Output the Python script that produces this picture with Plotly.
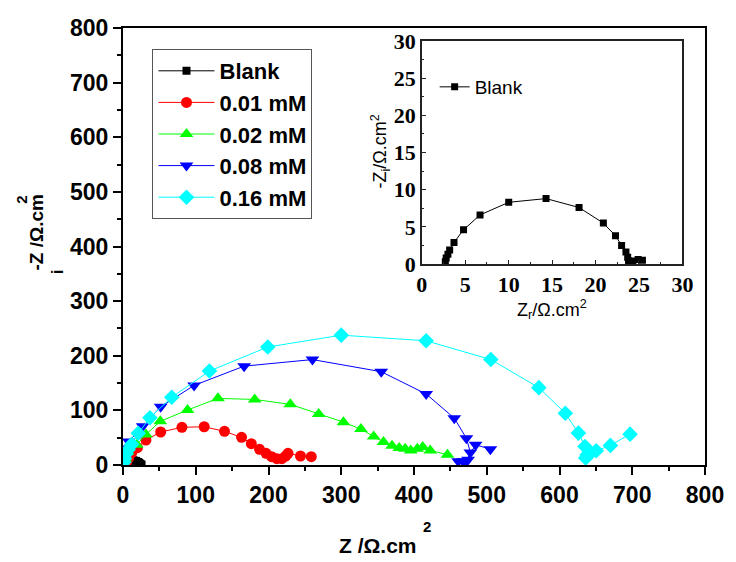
import plotly.graph_objects as go

# ---- data: Nyquist plots, Z_r and -Z_i in ohm.cm^2 ----
blank_zr = [2.7, 2.8, 3.0, 3.2, 3.7, 4.8, 6.7, 10.0, 14.3, 18.1, 20.9, 22.3, 23.0, 23.5, 23.7, 23.8, 24.3, 24.9, 25.4]
blank_zi = [0.3, 0.8, 1.3, 1.9, 2.9, 4.6, 6.6, 8.3, 8.8, 7.6, 5.5, 3.8, 2.5, 1.6, 0.9, 0.4, 0.4, 0.6, 0.5]

c001_zr = [5, 8, 12, 19.8, 31.5, 51.8, 81, 111.6, 139.5, 163, 176.4, 187.7, 196.7, 204.3, 211.5, 218.3, 223.7, 226.8, 244, 258.8]
c001_zi = [6, 13, 22, 31.7, 45.7, 60.4, 69, 70, 61.6, 50.6, 39, 28.7, 21.3, 15.2, 11.6, 11.6, 16.5, 21.3, 16.5, 15.2]

c002_zr = [3, 6.3, 18.9, 31.5, 51.3, 88.7, 130.5, 181, 230, 269, 303, 327, 344.6, 358, 369.8, 379.7, 387.8, 395.5, 404.5, 412, 422.3, 446]
c002_zi = [12, 25, 37, 56, 80, 100.6, 122, 120, 111, 93.5, 78.4, 65.7, 52.3, 42, 35.3, 31, 29.8, 26.7, 29.8, 32.8, 26.7, 18.8]

c008_zr = [2, 4, 8, 27, 51.8, 97.7, 166.5, 260.4, 355, 416.7, 455.4, 472, 477.5, 474.3, 467.6, 460.8, 470, 484.7, 505]
c008_zi = [15, 30, 43, 71, 106.7, 145.7, 181, 193, 170.8, 130, 85.7, 49, 23, 9.7, 6.7, 6.7, 5, 37, 29]

c016_zr = [1, 2, 4, 7, 12, 21, 37, 67, 118.8, 199, 300, 416.7, 505.6, 571.6, 608, 626, 635, 638, 636, 643, 650.5, 670, 697]
c016_zi = [5, 12, 20, 28, 37.8, 58, 86.6, 124, 172, 216, 237.7, 227.4, 193, 141.6, 94.8, 58.4, 34, 18.8, 12.8, 21.9, 26, 35.9, 56.5]

names = ["Blank", "0.01 mM", "0.02 mM", "0.08 mM", "0.16 mM"]
zr_sets = [blank_zr, c001_zr, c002_zr, c008_zr, c016_zr]
zi_sets = [blank_zi, c001_zi, c002_zi, c008_zi, c016_zi]
colors = ["#000000", "#FF0000", "#00FF00", "#0000FF", "#00FFFF"]
symbols = ["square", "circle", "triangle-up", "triangle-down", "diamond"]
sizes = [8, 11, 12, 12, 12]

W, H = 736, 562
ML, MR, MT, MB = 123, 21, 28, 97
PW, PH = W - ML - MR, H - MT - MB


def px_x(p):
    return (p - ML) / PW


def px_y(p):
    return (H - MB - p) / PH


SANS = "Liberation Sans"
SERIF = "Liberation Serif"

fig = go.Figure()

for name, zr, zi, col, sym, sz in zip(names, zr_sets, zi_sets, colors, symbols, sizes):
    fig.add_trace(go.Scatter(
        x=zr, y=zi, name=name, mode="lines+markers",
        line=dict(color=col, width=1),
        marker=dict(symbol=sym, size=sz, color=col, line=dict(width=0)),
        xaxis="x", yaxis="y", legend="legend",
    ))

# inset: blank solution on a zoomed scale
fig.add_trace(go.Scatter(
    x=blank_zr, y=blank_zi, name="Blank", mode="lines+markers",
    line=dict(color="#000000", width=1),
    marker=dict(symbol="square", size=7, color="#000000"),
    xaxis="x2", yaxis="y2", legend="legend2",
))

main_axis = dict(
    range=[0, 800], dtick=100, tick0=0,
    ticks="outside", ticklen=8, tickwidth=2, tickcolor="black",
    showline=True, linewidth=2, linecolor="black", mirror=True,
    showgrid=False, zeroline=False,
    minor=dict(dtick=50, ticks="outside", ticklen=4, tickwidth=2, tickcolor="black", showgrid=False),
    tickfont=dict(family=SANS, size=23, color="black", weight="bold"),
)
inset_axis = dict(
    range=[0, 30], dtick=5, tick0=0,
    ticks="inside", ticklen=4, tickwidth=1, tickcolor="#222",
    showline=True, linewidth=1.5, linecolor="#222", mirror=True,
    showgrid=False, zeroline=False,
    minor=dict(dtick=2.5, ticks="inside", ticklen=2, tickwidth=1, tickcolor="#222", showgrid=False),
    tickfont=dict(family=SERIF, size=22, color="black", weight="bold"),
)

ix0, ix1 = px_x(427), px_x(692)
iy0, iy1 = px_y(264), px_y(41)

fig.update_layout(
    width=W, height=H,
    margin=dict(l=ML, r=MR, t=MT, b=MB, pad=0),
    paper_bgcolor="white", plot_bgcolor="white",
    xaxis=dict(main_axis, domain=[0, 1], anchor="y"),
    yaxis=dict(main_axis, domain=[0, 1], anchor="x"),
    xaxis2=dict(inset_axis, domain=[ix0, ix1], anchor="y2"),
    yaxis2=dict(inset_axis, domain=[iy0, iy1], anchor="x2"),
    legend=dict(
        x=px_x(153), y=px_y(49), xanchor="left", yanchor="top",
        bgcolor="white", bordercolor="#555", borderwidth=1,
        font=dict(family=SANS, size=22, color="black", weight="bold"),
        tracegroupgap=0, itemwidth=56,
    ),
    legend2=dict(
        x=px_x(440), y=px_y(68), xanchor="left", yanchor="top",
        bgcolor="rgba(0,0,0,0)", borderwidth=0,
        font=dict(family=SANS, size=19, color="black"),
    ),
    showlegend=True,
)

ann_bold = dict(family=SANS, color="black", weight="bold")
ann_reg = dict(family=SANS, color="black")
annotations = [
    # main y title, pieces placed individually
    dict(text="-Z /Ω.cm", x=px_x(35), y=px_y(232), textangle=-90, font=dict(ann_bold, size=19)),
    dict(text="i", x=px_x(56), y=px_y(272), textangle=-90, font=dict(ann_bold, size=17)),
    dict(text="2", x=px_x(20), y=px_y(200), textangle=-90, font=dict(ann_bold, size=15)),
    # main x title
    dict(text="Z /Ω.cm", x=px_x(382), y=px_y(545), font=dict(ann_bold, size=21)),
    dict(text="2", x=px_x(432), y=px_y(526), font=dict(ann_bold, size=15)),
    # inset titles
    dict(text="Z<sub>r</sub>/Ω.cm<sup>2</sup>", x=px_x(559), y=px_y(310), font=dict(ann_reg, size=18)),
    dict(text="-Z<sub>i</sub>/Ω.cm<sup>2</sup>", x=px_x(384), y=px_y(152), textangle=-90, font=dict(ann_reg, size=18)),
]
for a in annotations:
    a.update(xref="paper", yref="paper", showarrow=False, xanchor="center", yanchor="middle")
fig.update_layout(annotations=annotations)

fig.write_html("out.html")
